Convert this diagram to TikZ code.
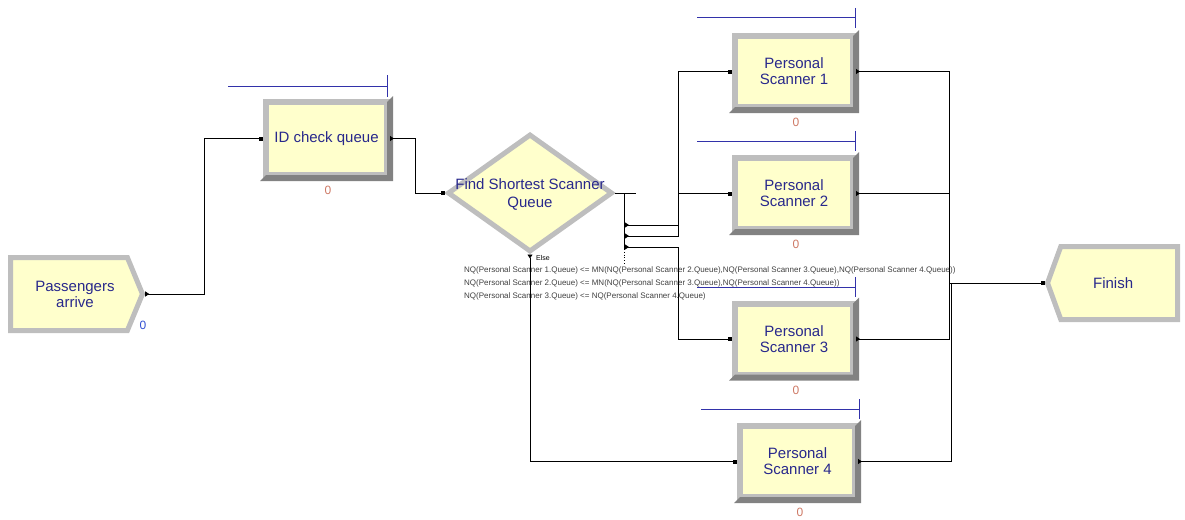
\documentclass[tikz,border=0pt]{standalone}
\usepackage{fontspec}
\setmainfont{Liberation Sans}
\usetikzlibrary{shapes.geometric, shapes.symbols, arrows.meta}
\definecolor{modfill}{RGB}{255,255,204}
\definecolor{bevlight}{RGB}{190,190,190}
\definecolor{bevdark}{RGB}{130,130,130}
\definecolor{modtext}{RGB}{40,40,140}
\definecolor{queueblue}{RGB}{50,50,170}
\definecolor{cntred}{RGB}{205,120,100}
\definecolor{cntblue}{RGB}{50,80,210}

\begin{document}
\begin{tikzpicture}[x=1pt, y=-1pt,
    module/.style={draw=bevlight, line width=6pt, fill=modfill, text=modtext,
        font=\fontsize{15}{16}\selectfont, align=center, inner sep=0pt},
    proc/.style={module, rectangle, minimum width=118pt, minimum height=71pt},
    cnt/.style={font=\fontsize{12}{12}\selectfont, inner sep=0pt},
    queue/.style={draw=queueblue, line width=1pt},
    conn/.style={line width=0.8pt, {Triangle[reversed,length=4pt,width=5pt]}-{Square[length=4pt,width=4pt]}}]
    \useasboundingbox (0,0) rectangle (1185,519);

    % modules
    \node[module, signal, signal to=east, signal pointer angle=135, line width=5pt,
        minimum width=132pt, minimum height=73pt, anchor=west] (pa) at (8,294) {\hspace*{12pt}Passengers\\\hspace*{12pt}arrive};
    \node[proc, minimum width=121pt, minimum height=73pt] (id) at (326.5,138.5) {ID check queue};
    \node[module, diamond, line width=5pt, minimum width=165pt, minimum height=118pt] (fsq) at (530,193) {};
    \node[text=modtext, font=\fontsize{15}{18}\selectfont, align=center] (fsq-txt) at (530,194) {Find Shortest Scanner\\Queue};
    \node[proc] (s1) at (794,71.5) {Personal\\Scanner 1};
    \node[proc] (s2) at (794,193.5) {Personal\\Scanner 2};
    \node[proc] (s3) at (794,339) {Personal\\Scanner 3};
    \node[proc, minimum width=115pt] (s4) at (797.5,461.5) {Personal\\Scanner 4};
    \node[module, signal, signal to=west, signal pointer angle=140, line width=5pt,
        minimum width=130pt, minimum height=73pt, anchor=east] (fin) at (1180,283) {Finish\hspace*{12pt}};

    % darker bevel
    \foreach \n in {id,s1,s2,s3,s4}
        \fill[bevdark] ([shift={(-3,3)}]\n.south west) -- ([shift={(3,3)}]\n.south east)
            -- ([shift={(3,-3)}]\n.north east) -- ([shift={(-3,3)}]\n.north east)
            -- ([shift={(-3,-3)}]\n.south east) -- ([shift={(3,-3)}]\n.south west) -- cycle;

    % queues
    \draw[queue] (228,86) -- (387,86) (387,75) -- (387,97);
    \foreach \y/\x in {18/855, 141/855, 287/855, 409/859}
        \draw[queue] (\x-158,\y) -- (\x,\y) (\x,\y-10) -- (\x,\y+10);

    % counters
    \node[cnt, text=cntblue] (pa-cnt) at (143,325) {0};
    \node[cnt, text=cntred] (id-cnt) at (328,190) {0};
    \node[cnt, text=cntred] (s1-cnt) at (796,122) {0};
    \node[cnt, text=cntred] (s2-cnt) at (796,244) {0};
    \node[cnt, text=cntred] (s3-cnt) at (796,390) {0};
    \node[cnt, text=cntred] (s4-cnt) at (800,512) {0};

    % decide exits
    \coordinate (brk) at ([xshift=9pt]fsq.east);
    \draw[line width=0.8pt] (fsq.east) -- ++(21,0) (brk) -- ++(0,56);
    \draw[dotted, line width=0.8pt] ([yshift=-56pt]brk) -- ++(0,16);
    \path (brk) ++(1,32) coordinate (x1) ++(0,11) coordinate (x2) ++(0,11) coordinate (x3);
    \node[font=\fontsize{7}{8}\selectfont, inner sep=0pt] (else) at (543,258) {Else};
    \node[font=\fontsize{8}{12.5}\selectfont, text=black!75, align=left, inner sep=0pt, anchor=north west] (cond) at (464,267)
        {NQ(Personal Scanner 1.Queue) <= MN(NQ(Personal Scanner 2.Queue),NQ(Personal Scanner 3.Queue),NQ(Personal Scanner 4.Queue))\\
         NQ(Personal Scanner 2.Queue) <= MN(NQ(Personal Scanner 3.Queue),NQ(Personal Scanner 4.Queue))\\
         NQ(Personal Scanner 3.Queue) <= NQ(Personal Scanner 4.Queue)};

    % connectors
    \draw[conn] (pa.east) -- ++(59,0) |- (id.west);
    \draw[conn] (id.east) -- ++(25,0) |- (fsq.west);
    \draw[conn] (x1) -- ++(53,0) |- (s1.west);
    \draw[conn] (x2) -- ++(53,0) |- (s2.west);
    \draw[conn] (x3) -- ++(53,0) |- (s3.west);
    \draw[conn] (fsq.south) |- (s4.west);
    \draw[conn] (s1.east) -- ++(93,0) |- (fin.west);
    \draw[conn] (s2.east) -- ++(93,0) |- (fin.west);
    \draw[conn] (s3.east) -- ++(93,0) |- (fin.west);
    \draw[conn] (s4.east) -- ++(93,0) |- (fin.west);
\end{tikzpicture}
\end{document}
